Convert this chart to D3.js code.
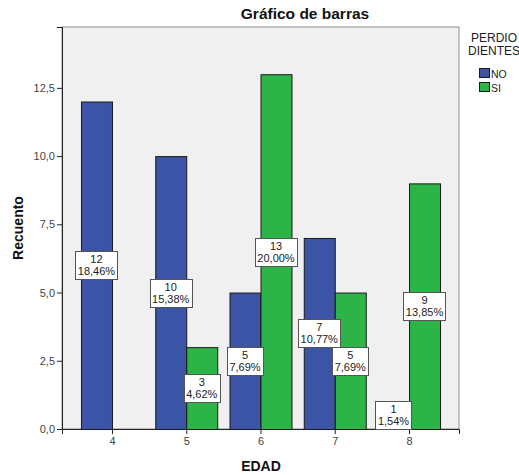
<!DOCTYPE html>
<html><head><meta charset="utf-8">
<script src="https://cdn.jsdelivr.net/npm/d3@7"></script>
<style>body{margin:0;background:#fff;}svg{display:block;font-family:"Liberation Sans",Arial,sans-serif;}</style>
</head><body><svg id="c" width="519" height="475"></svg>
<script>
const categories = [4, 5, 6, 7, 8];
const series = ["NO", "SI"];
const noValues = [12, 10, 5, 7, 1];
const siValues = [0, 3, 13, 5, 9];
const noPct = ["18,46%", "15,38%", "7,69%", "10,77%", "1,54%"];
const siPct = ["", "4,62%", "20,00%", "7,69%", "13,85%"];
const yTicks = [0, 2.5, 5, 7.5, 10, 12.5];
const colors = {NO: "#3c54a6", SI: "#2db448"};

const svg = d3.select("#c");
const L = 62, R = 459, T = 27, B = 429;
const y = d3.scaleLinear().domain([0, 14.73]).range([B, T]);
const x = d3.scalePoint().domain(categories).range([L, R]).padding(0.673);
const bw = 31;

svg.append("rect").attr("x", L).attr("y", T).attr("width", R - L).attr("height", B - T)
  .attr("fill", "#f0f0f0").attr("stroke", "#8c8c8c").attr("stroke-width", 1);

const fmt = v => d3.format(".1f")(v).replace(".", ",");
const ya = svg.append("g").attr("transform", `translate(${L},0)`)
  .call(d3.axisLeft(y).tickValues(yTicks).tickFormat(fmt).tickSize(5).tickPadding(2));
ya.select(".domain").attr("stroke", "#222");
ya.selectAll("line").attr("stroke", "#222");
ya.selectAll("text").attr("font-size", 11).attr("fill", "#444").attr("font-family", "Liberation Sans, Arial, sans-serif");

const xa = svg.append("g").attr("transform", `translate(0,${B})`)
  .call(d3.axisBottom(x).tickSize(5).tickPadding(3));
xa.select(".domain").attr("stroke", "#222");
xa.selectAll("line").attr("stroke", "#222");
xa.selectAll("text").attr("font-size", 11).attr("fill", "#444").attr("font-family", "Liberation Sans, Arial, sans-serif");

const rows = [];
categories.forEach((c, i) => {
  rows.push({c, s: "NO", v: noValues[i], p: noPct[i], off: -bw});
  rows.push({c, s: "SI", v: siValues[i], p: siPct[i], off: 0});
});
const bars = rows.filter(d => d.v > 0);
svg.selectAll("rect.bar").data(bars).enter().append("rect").attr("class", "bar")
  .attr("x", d => x(d.c) + d.off + 0.5).attr("y", d => y(d.v) + 0.5)
  .attr("width", bw).attr("height", d => y(0) - y(d.v))
  .attr("fill", d => colors[d.s]).attr("stroke", "#1a1a1a").attr("stroke-width", 1);

// labels
bars.forEach(d => {
  const cx = x(d.c) + d.off + bw / 2;
  const cy = y(d.v / 2);
  const g = svg.append("g");
  const t1 = g.append("text").attr("x", cx).attr("y", cy - 2).attr("text-anchor", "middle")
    .attr("font-size", 11).attr("fill", "#222").text(d.v);
  const t2 = g.append("text").attr("x", cx).attr("y", cy + 10).attr("text-anchor", "middle")
    .attr("font-size", 11).attr("fill", "#222").text(d.p);
  const w = Math.max(t1.node().getComputedTextLength(), t2.node().getComputedTextLength()) + 5;
  g.insert("rect", "text").attr("x", Math.round(cx - w / 2) + 0.5).attr("y", Math.round(cy - 14) + 0.5)
    .attr("width", Math.round(w)).attr("height", 28).attr("fill", "#fff").attr("stroke", "#555").attr("stroke-width", 1);
});

svg.append("text").attr("x", 305).attr("y", 19).attr("text-anchor", "middle")
  .attr("font-weight", "bold").attr("font-size", 15.5).attr("fill", "#111").text("Gráfico de barras");
svg.append("text").attr("transform", "translate(23,228) rotate(-90)").attr("text-anchor", "middle")
  .attr("font-weight", "bold").attr("font-size", 14).attr("fill", "#111").text("Recuento");
svg.append("text").attr("x", 261).attr("y", 471).attr("text-anchor", "middle")
  .attr("font-weight", "bold").attr("font-size", 14).attr("fill", "#111").text("EDAD");

// legend
svg.append("text").attr("x", 494).attr("y", 42).attr("text-anchor", "middle").attr("font-size", 12).attr("fill", "#222").text("PERDIO");
svg.append("text").attr("x", 494).attr("y", 55).attr("text-anchor", "middle").attr("font-size", 12).attr("fill", "#222").text("DIENTES");
series.forEach((s, i) => {
  svg.append("rect").attr("x", 479.5).attr("y", 68.5 + i * 14).attr("width", 10).attr("height", 9)
    .attr("fill", colors[s]).attr("stroke", "#1a1a1a");
  svg.append("text").attr("x", 491).attr("y", 77.5 + i * 14).attr("font-size", 10.5).attr("fill", "#222").text(s);
});
</script></body></html>
